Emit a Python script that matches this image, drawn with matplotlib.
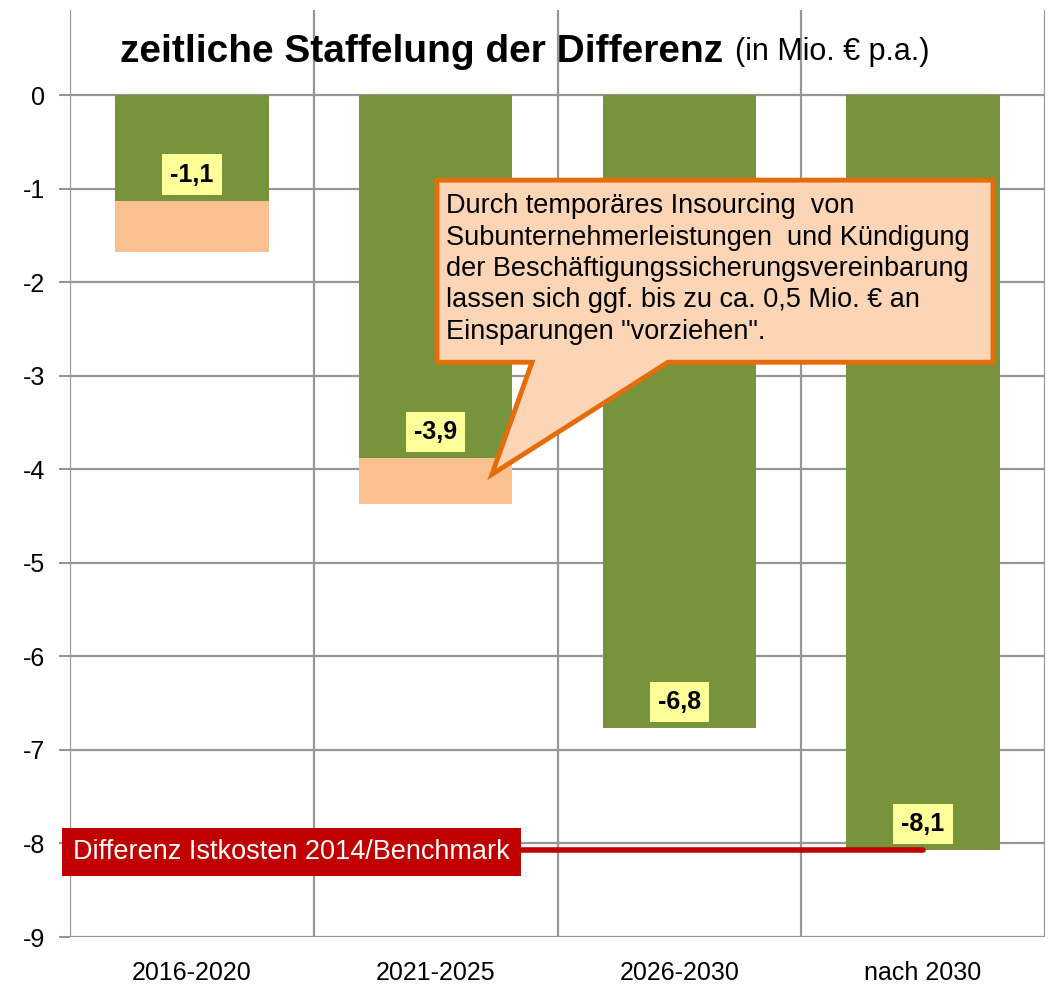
import matplotlib.pyplot as plt
from matplotlib import font_manager
from matplotlib.patches import Polygon
import numpy as np

names = {f.name for f in font_manager.fontManager.ttflist}
FONT = 'Liberation Sans Narrow' if 'Liberation Sans Narrow' in names else 'Liberation Sans'
plt.rcParams['font.family'] = [FONT, 'DejaVu Sans']

# Daten
categories = ['2016-2020', '2021-2025', '2026-2030', 'nach 2030']
diff_values = [-1.13, -3.88, -6.77, -8.07]      # grüne Balken
pull_forward = [-0.55, -0.49, 0.0, 0.0]          # vorziehbare Einsparung
value_labels = ['-1,1', '-3,9', '-6,8', '-8,1']
y_ticks = [0, -1, -2, -3, -4, -5, -6, -7, -8, -9]

GREEN = '#77933C'
PEACH = '#FAC090'
GRID = '#969696'

fig = plt.figure(figsize=(10.48, 9.86), dpi=100)
ax = fig.add_axes([70 / 1048, 49 / 986, 975 / 1048, 927 / 986])

x = np.arange(len(categories))
ax.bar(x, diff_values, width=0.63, color=GREEN, zorder=2)
ax.bar(x, pull_forward, width=0.63, bottom=diff_values, color=PEACH, zorder=2)

ax.set_xlim(-0.5, 3.5)
ax.set_ylim(-9, 0.91)
ax.set_yticks(y_ticks)
ax.set_yticklabels([str(v) for v in y_ticks], fontsize=18)
ax.set_xticks(x)
ax.set_xticklabels(categories, fontsize=18)
ax.tick_params(axis='x', length=0, pad=17)
ax.tick_params(axis='y', length=8, width=1.5, color=GRID, pad=10)

# Gitter
for v in y_ticks:
    ax.axhline(v, color=GRID, lw=1.6, zorder=1)
for xv in np.arange(-0.5, 4.0, 1.0):
    ax.axvline(xv, color=GRID, lw=1.6, zorder=1)
for s in ax.spines.values():
    s.set_visible(False)

# Wertelabels
for xi, v, lab in zip(x, diff_values, value_labels):
    ax.text(xi, v + 0.28, lab, ha='center', va='center', fontsize=18, fontweight='bold',
            bbox=dict(boxstyle='square,pad=0.33', fc='#FFFF99', ec='none'), zorder=4)

# Benchmark-Linie
ax.plot([1.35, 3.0], [diff_values[3], diff_values[3]], color='#C00000', lw=4,
        solid_capstyle='round', zorder=3)
ax.text(-0.488, diff_values[3] - 0.02, 'Differenz Istkosten 2014/Benchmark', color='white',
        fontsize=19.5, ha='left', va='center', zorder=5, clip_on=False,
        bbox=dict(boxstyle='square,pad=0.4', fc='#C00000', ec='none'))

# Sprechblase
def px(xp, yp):
    return ((xp - 70) / 243.75 - 0.5, -(yp - 95) / 93.5)

pts = [px(437, 180), px(993, 180), px(993, 362), px(668, 362), px(492, 474),
       px(532, 362), px(437, 362)]
ax.add_patch(Polygon(pts, closed=True, fc='#FBD5B5', ec='#E46C0A', lw=3.5,
                     joinstyle='miter', zorder=6))
note = ('Durch temporäres Insourcing  von\n'
        'Subunternehmerleistungen  und Kündigung\n'
        'der Beschäftigungssicherungsvereinbarung\n'
        'lassen sich ggf. bis zu ca. 0,5 Mio. € an\n'
        'Einsparungen "vorziehen".')
tx, ty = px(446, 193)
ax.text(tx, ty, note, fontsize=19.5, ha='left', va='top', linespacing=1.27, zorder=7)

# Titel
fig.text(120 / 1048, 1 - 52 / 986, 'zeitliche Staffelung der Differenz', fontsize=28,
         fontweight='bold', ha='left', va='center')
fig.text(735 / 1048, 1 - 52 / 986, '(in Mio. € p.a.)', fontsize=22, ha='left', va='center')

fig.savefig('out.png', dpi=100)
